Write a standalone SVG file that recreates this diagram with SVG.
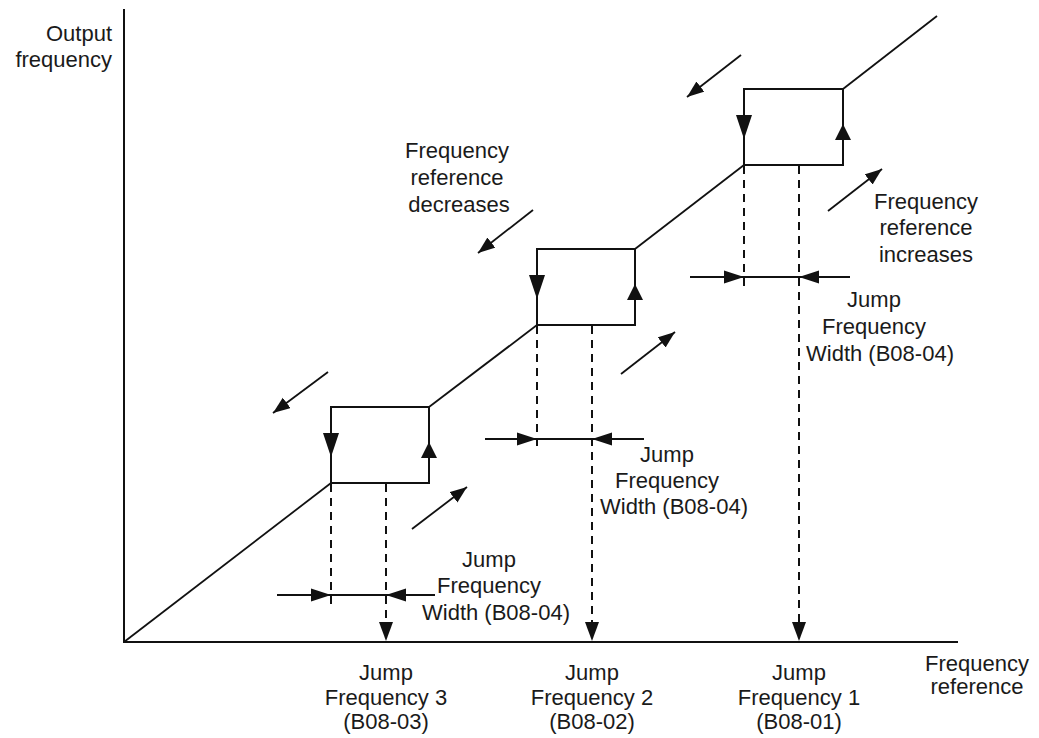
<svg xmlns="http://www.w3.org/2000/svg" width="1039" height="738" viewBox="0 0 1039 738">
<style>
.ln{stroke:#111;stroke-width:2;fill:none}
.dg{stroke:#111;stroke-width:1.8;fill:none}
.ds{stroke:#111;stroke-width:2;fill:none;stroke-dasharray:8 6}
.ar{stroke:#111;stroke-width:1.8;fill:none;marker-end:url(#hd)}
.ah{fill:#111;stroke:none}
text{font-family:"Liberation Sans",Arial,sans-serif;font-size:22px;fill:#1a1a1a}
.c{text-anchor:middle}
.r{text-anchor:end}
</style>
<defs>
<marker id="hd" markerUnits="userSpaceOnUse" markerWidth="20" markerHeight="14" refX="17" refY="6.5" orient="auto">
<path d="M0,0 L17,6.5 L0,13 Z" fill="#111"/>
</marker>
</defs>
<g id="axes">
<line class="ln" x1="124" y1="9" x2="124" y2="643"/>
<line class="ln" x1="123" y1="642" x2="958" y2="642"/>
</g>
<g id="characteristic">
<polyline class="dg" points="124,642 331,483"/>
<polyline class="dg" points="429,407 537,325"/>
<polyline class="dg" points="635,249 744,165"/>
<polyline class="dg" points="843,89 937,16"/>
</g>
<g id="box3">
<rect class="ln" x="331" y="407" width="98" height="76"/>
<polygon class="ah" points="323,433 339,433 331,457"/>
<polygon class="ah" points="421,458 437,458 429,442"/>
</g>
<g id="box2">
<rect class="ln" x="537" y="249" width="98" height="76"/>
<polygon class="ah" points="529,275 545,275 537,299"/>
<polygon class="ah" points="627,300 643,300 635,284"/>
</g>
<g id="box1">
<rect class="ln" x="744" y="89" width="99" height="76"/>
<polygon class="ah" points="736,115 752,115 744,139"/>
<polygon class="ah" points="835,140 851,140 843,124"/>
</g>
<g id="connectors">
<line class="ds" x1="331" y1="484" x2="331" y2="609"/>
<line class="ds" x1="386" y1="484" x2="386" y2="626"/>
<polygon class="ah" points="379,622 393,622 386,641"/>
<line class="ds" x1="537" y1="326" x2="537" y2="451"/>
<line class="ds" x1="592" y1="326" x2="592" y2="626"/>
<polygon class="ah" points="585,622 599,622 592,641"/>
<line class="ds" x1="744" y1="166" x2="744" y2="289"/>
<line class="ds" x1="799" y1="166" x2="799" y2="626"/>
<polygon class="ah" points="792,622 806,622 799,641"/>
<line class="ln" x1="277" y1="595" x2="435" y2="595"/>
<polygon class="ah" points="311,588.5 311,601.5 331,595"/>
<polygon class="ah" points="406,588.5 406,601.5 386,595"/>
<line class="ln" x1="485" y1="439" x2="644" y2="439"/>
<polygon class="ah" points="517,432.5 517,445.5 537,439"/>
<polygon class="ah" points="612,432.5 612,445.5 592,439"/>
<line class="ln" x1="690" y1="277" x2="850" y2="277"/>
<polygon class="ah" points="724,270.5 724,283.5 744,277"/>
<polygon class="ah" points="819,270.5 819,283.5 799,277"/>
<line class="ar" x1="328" y1="372" x2="273" y2="413"/>
<line class="ar" x1="533" y1="210" x2="478" y2="253"/>
<line class="ar" x1="741" y1="55" x2="687" y2="97"/>
<line class="ar" x1="412" y1="529" x2="467" y2="487"/>
<line class="ar" x1="621" y1="374" x2="675" y2="332"/>
<line class="ar" x1="828" y1="211" x2="882" y2="169"/>
</g>
<g id="labels">
<text class="r" x="112" y="41">Output</text>
<text class="r" x="112" y="67">frequency</text>
<text class="c" x="457" y="158">Frequency</text>
<text class="c" x="457" y="185">reference</text>
<text class="c" x="459" y="212">decreases</text>
<text class="c" x="926" y="209">Frequency</text>
<text class="c" x="926" y="235">reference</text>
<text class="c" x="926" y="262">increases</text>
<text class="c" x="874" y="307">Jump</text>
<text class="c" x="874" y="334">Frequency</text>
<text class="c" x="880" y="361">Width (B08-04)</text>
<text class="c" x="667" y="462">Jump</text>
<text class="c" x="667" y="488">Frequency</text>
<text class="c" x="674" y="514">Width (B08-04)</text>
<text class="c" x="489" y="567">Jump</text>
<text class="c" x="489" y="593">Frequency</text>
<text class="c" x="496" y="620">Width (B08-04)</text>
<text class="c" x="386" y="680">Jump</text>
<text class="c" x="386" y="705">Frequency 3</text>
<text class="c" x="386" y="729">(B08-03)</text>
<text class="c" x="592" y="680">Jump</text>
<text class="c" x="592" y="705">Frequency 2</text>
<text class="c" x="592" y="729">(B08-02)</text>
<text class="c" x="799" y="680">Jump</text>
<text class="c" x="799" y="705">Frequency 1</text>
<text class="c" x="799" y="729">(B08-01)</text>
<text class="c" x="977" y="671">Frequency</text>
<text class="c" x="977" y="694">reference</text>
</g>
</svg>
